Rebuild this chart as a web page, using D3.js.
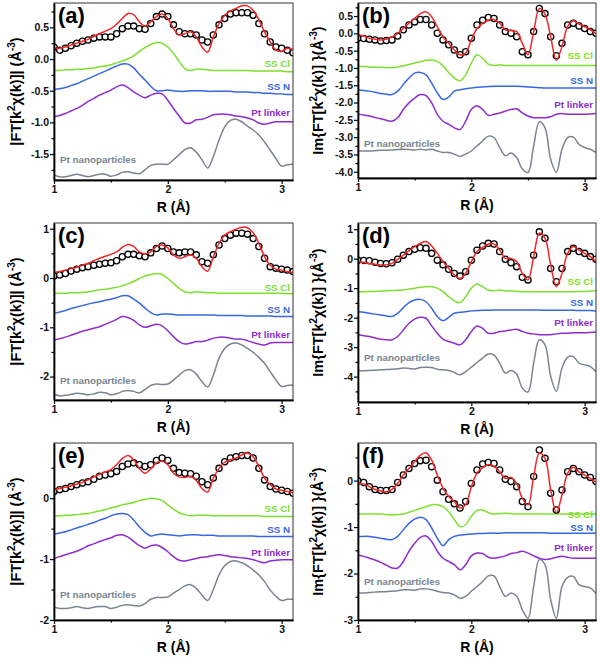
<!DOCTYPE html>
<html>
<head>
<meta charset="utf-8">
<script src="https://cdn.jsdelivr.net/npm/d3@7"></script>
<style>
body{margin:0;background:#fff;}
svg{font-family:"Liberation Sans",Arial,sans-serif;font-weight:bold;}
</style>
</head>
<body>
<svg id="chart" width="600" height="660"></svg>
<script>
// R grid (Å)
var R=[1.00,1.05,1.10,1.15,1.20,1.25,1.30,1.35,1.40,1.45,1.50,1.55,1.60,1.65,1.70,1.75,1.80,1.85,1.90,1.95,
	2.00,2.05,2.10,2.15,2.20,2.25,2.30,2.35,2.40,2.45,2.50,2.55,2.60,2.65,2.70,2.75,2.80,2.85,2.90,2.95,
	3.00,3.05,3.10];

// (a) magnitude
var dataA=[.19,.14,.17,.21,.25,.28,.30,.33,.35,.35,.35,.40,.48,.52,.52,.48,.47,.56,.67,.71,.67,.54,.43,.40,.40,.38,.30,.27,.38,.54,.64,.71,.73,.73,.73,.69,.56,.40,.27,.19,.17,.14,.10];
var fitA=[.17,.17,.19,.22,.25,.28,.31,.36,.40,.44,.48,.55,.64,.72,.70,.59,.52,.59,.67,.71,.64,.48,.38,.40,.43,.35,.19,.11,.35,.56,.69,.76,.80,.84,.84,.77,.62,.43,.27,.14,.12,.17,.15];
var ssClA=[-.18,-.18,-.17,-.17,-.16,-.16,-.15,-.14,-.12,-.11,-.09,-.06,-.03,.00,.05,.12,.18,.23,.26,.25,.19,.09,-.04,-.15,-.18,-.16,-.16,-.17,-.18,-.18,-.18,-.18,-.18,-.18,-.18,-.19,-.19,-.19,-.19,-.19,-.19,-.20,-.20];
var ssNA=[-.48,-.47,-.45,-.42,-.39,-.35,-.31,-.27,-.23,-.19,-.15,-.11,-.08,-.08,-.14,-.24,-.33,-.43,-.50,-.50,-.49,-.50,-.51,-.51,-.50,-.50,-.50,-.51,-.51,-.51,-.51,-.51,-.52,-.52,-.52,-.53,-.53,-.54,-.54,-.55,-.55,-.56,-.56];
var ptLinkerA=[-.91,-.89,-.86,-.82,-.78,-.73,-.67,-.62,-.57,-.53,-.49,-.44,-.41,-.45,-.52,-.57,-.61,-.57,-.54,-.55,-.65,-.78,-.90,-1.01,-1.01,-.96,-.95,-.92,-.88,-.87,-.87,-.88,-.90,-.91,-.93,-.96,-1.01,-1.03,-1.01,-.99,-.99,-.99,-.99];
var ptNpA=[-1.83,-1.86,-1.86,-1.84,-1.82,-1.84,-1.86,-1.84,-1.82,-1.82,-1.85,-1.83,-1.79,-1.78,-1.80,-1.81,-1.75,-1.68,-1.66,-1.66,-1.66,-1.59,-1.51,-1.43,-1.40,-1.47,-1.59,-1.72,-1.54,-1.28,-1.07,-.97,-.95,-.99,-1.06,-1.12,-1.20,-1.31,-1.44,-1.57,-1.69,-1.67,-1.66];

// (b) imaginary part
var dataB=[-.14,-.15,-.17,-.19,-.22,-.21,-.19,-.08,.10,.24,.33,.40,.40,.24,.00,-.19,-.33,-.48,-.62,-.53,-.14,.24,.38,.46,.43,.24,.05,.00,-.10,-.53,-.62,.05,.72,.57,-.10,-.65,-.29,.24,.29,.21,.14,.05,.00];
var fitB=[-.05,-.08,-.14,-.17,-.19,-.17,-.11,.00,.14,.29,.43,.57,.62,.48,.19,-.10,-.29,-.48,-.62,-.57,-.19,.14,.29,.38,.40,.29,.10,.08,.05,-.29,-.62,.05,.72,.55,-.10,-.78,-.38,.20,.36,.27,.19,.10,-.02];
var ssClB=[-.96,-.96,-.97,-.98,-.98,-.99,-.99,-.97,-.94,-.90,-.86,-.82,-.78,-.77,-.81,-.94,-1.13,-1.29,-1.37,-1.20,-.86,-.62,-.72,-.89,-.93,-.91,-.93,-.93,-.93,-.93,-.93,-.93,-.93,-.93,-.93,-.93,-.93,-.93,-.93,-.93,-.93,-.93,-.93];
var ssNB=[-1.63,-1.65,-1.67,-1.70,-1.74,-1.76,-1.77,-1.67,-1.48,-1.29,-1.15,-1.13,-1.20,-1.44,-1.72,-1.91,-1.84,-1.67,-1.63,-1.60,-1.58,-1.56,-1.55,-1.54,-1.53,-1.53,-1.53,-1.53,-1.53,-1.54,-1.55,-1.56,-1.57,-1.58,-1.58,-1.58,-1.58,-1.58,-1.58,-1.58,-1.58,-1.58,-1.58];
var ptLinkerB=[-2.34,-2.36,-2.39,-2.43,-2.47,-2.51,-2.54,-2.44,-2.20,-2.01,-1.87,-1.77,-1.80,-2.01,-2.34,-2.54,-2.63,-2.73,-2.78,-2.54,-2.20,-2.09,-2.20,-2.37,-2.34,-2.30,-2.25,-2.20,-2.18,-2.30,-2.39,-2.44,-2.44,-2.44,-2.41,-2.34,-2.32,-2.34,-2.34,-2.34,-2.34,-2.33,-2.32];
var ptNpB=[-3.40,-3.40,-3.40,-3.39,-3.38,-3.38,-3.37,-3.36,-3.35,-3.36,-3.37,-3.35,-3.37,-3.35,-3.40,-3.44,-3.44,-3.49,-3.56,-3.49,-3.40,-3.25,-3.11,-2.97,-3.01,-3.30,-3.54,-3.46,-3.59,-3.92,-4.02,-3.25,-2.56,-2.73,-3.64,-4.02,-3.35,-3.01,-3.00,-3.21,-3.30,-3.35,-3.44];

// (c) magnitude
var dataC=[.04,.06,.09,.14,.18,.21,.23,.26,.28,.30,.31,.35,.43,.48,.48,.45,.43,.51,.60,.65,.60,.53,.51,.53,.53,.47,.33,.30,.47,.67,.80,.87,.91,.91,.89,.80,.64,.40,.23,.20,.18,.16,.13];
var fitC=[.11,.13,.16,.19,.22,.26,.30,.35,.40,.44,.48,.53,.62,.68,.64,.53,.49,.53,.64,.67,.61,.47,.40,.43,.47,.40,.23,.14,.43,.70,.87,.94,.99,1.03,1.02,.92,.70,.43,.26,.18,.16,.13,.11];
var ssClC=[-.31,-.31,-.31,-.30,-.30,-.29,-.28,-.26,-.24,-.23,-.21,-.19,-.16,-.12,-.07,-.01,.04,.07,.09,.07,-.01,-.11,-.21,-.28,-.30,-.28,-.29,-.30,-.30,-.31,-.31,-.31,-.31,-.31,-.31,-.31,-.31,-.31,-.31,-.31,-.31,-.32,-.32];
var ssNC=[-.72,-.69,-.66,-.62,-.59,-.56,-.53,-.50,-.48,-.45,-.43,-.40,-.36,-.36,-.43,-.51,-.61,-.70,-.75,-.73,-.73,-.74,-.75,-.75,-.75,-.75,-.75,-.75,-.75,-.76,-.76,-.76,-.76,-.76,-.77,-.77,-.77,-.77,-.77,-.78,-.78,-.78,-.78];
var ptLinkerC=[-1.26,-1.23,-1.20,-1.16,-1.12,-1.08,-1.05,-1.02,-.99,-.94,-.89,-.84,-.78,-.80,-.86,-.95,-1.00,-.97,-.94,-.97,-1.07,-1.19,-1.29,-1.34,-1.32,-1.29,-1.29,-1.26,-1.22,-1.20,-1.20,-1.22,-1.24,-1.24,-1.27,-1.31,-1.34,-1.36,-1.32,-1.31,-1.31,-1.31,-1.31];
var ptNpC=[-2.36,-2.39,-2.38,-2.36,-2.34,-2.35,-2.37,-2.35,-2.32,-2.33,-2.37,-2.35,-2.30,-2.28,-2.30,-2.33,-2.26,-2.18,-2.15,-2.16,-2.15,-2.07,-1.97,-1.88,-1.86,-1.95,-2.10,-2.21,-1.97,-1.63,-1.43,-1.34,-1.32,-1.36,-1.43,-1.51,-1.61,-1.73,-1.90,-2.07,-2.20,-2.18,-2.17];

// (d) imaginary part
var dataD=[-.05,-.06,-.07,-.12,-.16,-.17,-.14,-.02,.12,.24,.32,.37,.35,.18,-.05,-.21,-.36,-.50,-.59,-.44,-.05,.29,.43,.52,.50,.24,-.02,-.14,-.27,-.63,-.72,.12,.91,.69,-.33,-.78,-.33,.24,.35,.24,.18,.07,-.02];
var fitD=[-.10,-.13,-.16,-.19,-.21,-.21,-.16,-.02,.12,.27,.41,.52,.58,.43,.18,-.10,-.33,-.55,-.67,-.50,-.10,.24,.38,.50,.50,.29,.01,.01,-.10,-.50,-.72,.07,.86,.69,-.21,-.95,-.50,.18,.41,.29,.18,.07,-.10];
var ssClD=[-1.12,-1.12,-1.11,-1.11,-1.10,-1.09,-1.08,-1.07,-1.06,-1.03,-1.00,-.97,-.95,-.95,-1.00,-1.12,-1.29,-1.43,-1.49,-1.29,-1.00,-.86,-.95,-1.06,-1.09,-1.06,-1.09,-1.10,-1.11,-1.12,-1.12,-1.12,-1.12,-1.12,-1.12,-1.12,-1.12,-1.12,-1.12,-1.11,-1.11,-1.10,-1.09];
var ssND=[-1.79,-1.82,-1.85,-1.88,-1.91,-1.94,-1.96,-1.85,-1.66,-1.49,-1.40,-1.38,-1.46,-1.68,-1.96,-2.10,-1.99,-1.85,-1.82,-1.80,-1.77,-1.76,-1.75,-1.75,-1.74,-1.74,-1.74,-1.74,-1.74,-1.74,-1.74,-1.74,-1.74,-1.75,-1.75,-1.75,-1.75,-1.75,-1.75,-1.76,-1.76,-1.76,-1.77];
var ptLinkerD=[-2.58,-2.61,-2.64,-2.69,-2.73,-2.75,-2.75,-2.64,-2.42,-2.19,-2.05,-1.99,-2.02,-2.28,-2.53,-2.73,-2.81,-2.87,-2.92,-2.75,-2.47,-2.28,-2.36,-2.53,-2.53,-2.47,-2.45,-2.42,-2.39,-2.47,-2.53,-2.55,-2.58,-2.58,-2.58,-2.55,-2.53,-2.53,-2.51,-2.51,-2.51,-2.50,-2.49];
var ptNpD=[-3.80,-3.80,-3.79,-3.78,-3.77,-3.76,-3.75,-3.73,-3.71,-3.72,-3.74,-3.69,-3.68,-3.69,-3.75,-3.77,-3.79,-3.86,-3.94,-3.83,-3.68,-3.52,-3.37,-3.23,-3.27,-3.54,-3.88,-3.79,-3.91,-4.39,-4.52,-3.54,-2.75,-2.92,-3.99,-4.50,-3.71,-3.34,-3.32,-3.54,-3.60,-3.66,-3.83];

// (e) magnitude
var dataE=[.11,.14,.16,.19,.22,.25,.27,.31,.36,.38,.40,.44,.52,.56,.58,.55,.52,.55,.62,.66,.62,.49,.42,.41,.40,.36,.27,.22,.33,.49,.60,.66,.68,.70,.70,.66,.49,.30,.19,.15,.13,.11,.08];
var fitE=[.14,.16,.18,.20,.23,.26,.30,.35,.39,.43,.47,.55,.65,.70,.63,.49,.41,.48,.58,.61,.55,.41,.35,.34,.36,.29,.16,.10,.33,.49,.59,.63,.66,.71,.74,.68,.52,.33,.22,.15,.13,.11,.09];
var ssClE=[-.29,-.29,-.28,-.28,-.27,-.26,-.25,-.23,-.21,-.19,-.16,-.14,-.11,-.09,-.07,-.04,-.02,.00,-.01,-.04,-.11,-.18,-.24,-.27,-.29,-.28,-.28,-.28,-.29,-.29,-.29,-.29,-.29,-.29,-.29,-.29,-.29,-.30,-.30,-.30,-.30,-.30,-.30];
var ssNE=[-.59,-.57,-.55,-.52,-.49,-.46,-.43,-.40,-.36,-.33,-.29,-.26,-.25,-.27,-.36,-.47,-.56,-.62,-.60,-.59,-.60,-.61,-.62,-.61,-.60,-.60,-.61,-.61,-.61,-.62,-.62,-.62,-.62,-.62,-.62,-.62,-.63,-.63,-.63,-.63,-.63,-.63,-.63];
var ptLinkerE=[-.99,-.96,-.93,-.90,-.87,-.83,-.78,-.75,-.71,-.68,-.65,-.61,-.60,-.64,-.71,-.78,-.82,-.78,-.77,-.81,-.88,-.96,-1.02,-1.03,-1.01,-.99,-.97,-.96,-.94,-.93,-.94,-.96,-.97,-.98,-.99,-1.01,-1.04,-1.06,-1.03,-1.02,-1.01,-1.01,-1.01];
var ptNpE=[-1.79,-1.81,-1.81,-1.80,-1.78,-1.80,-1.81,-1.79,-1.78,-1.78,-1.81,-1.79,-1.76,-1.75,-1.76,-1.77,-1.73,-1.66,-1.63,-1.63,-1.62,-1.56,-1.50,-1.44,-1.42,-1.48,-1.59,-1.68,-1.50,-1.26,-1.11,-1.04,-1.03,-1.06,-1.11,-1.18,-1.26,-1.37,-1.51,-1.61,-1.68,-1.66,-1.66];

// (f) imaginary part
var dataF=[.00,-.04,-.13,-.19,-.21,-.21,-.19,-.04,.12,.26,.37,.43,.44,.30,.01,-.24,-.40,-.50,-.59,-.45,-.06,.23,.36,.39,.37,.23,.03,-.02,-.13,-.45,-.56,.09,.66,.48,-.27,-.63,-.20,.19,.26,.19,.12,.07,-.02];
var fitF=[-.06,-.07,-.13,-.19,-.22,-.24,-.19,-.06,.12,.26,.41,.55,.60,.44,.12,-.16,-.34,-.45,-.59,-.52,-.13,.16,.28,.34,.31,.19,.05,.07,-.06,-.38,-.52,.09,.59,.48,-.20,-.69,-.31,.16,.29,.19,.12,.05,-.04];
var ssClF=[-.72,-.72,-.72,-.72,-.72,-.73,-.74,-.73,-.72,-.68,-.64,-.60,-.56,-.52,-.52,-.56,-.67,-.84,-.99,-.95,-.77,-.64,-.63,-.69,-.72,-.71,-.70,-.71,-.72,-.72,-.72,-.72,-.72,-.72,-.72,-.72,-.72,-.72,-.72,-.72,-.72,-.72,-.72];
var ssNF=[-1.20,-1.20,-1.20,-1.22,-1.24,-1.26,-1.27,-1.20,-1.06,-.92,-.83,-.79,-.84,-1.02,-1.24,-1.40,-1.27,-1.20,-1.17,-1.16,-1.15,-1.14,-1.14,-1.13,-1.13,-1.13,-1.12,-1.12,-1.12,-1.12,-1.12,-1.12,-1.12,-1.12,-1.13,-1.13,-1.13,-1.13,-1.13,-1.13,-1.13,-1.13,-1.13];
var ptLinkerF=[-1.60,-1.63,-1.67,-1.71,-1.76,-1.82,-1.88,-1.88,-1.74,-1.52,-1.35,-1.22,-1.19,-1.31,-1.52,-1.67,-1.74,-1.81,-1.92,-1.81,-1.62,-1.56,-1.57,-1.65,-1.67,-1.65,-1.62,-1.57,-1.55,-1.52,-1.56,-1.62,-1.67,-1.70,-1.68,-1.65,-1.63,-1.65,-1.67,-1.67,-1.67,-1.67,-1.67];
var ptNpF=[-2.42,-2.42,-2.41,-2.40,-2.39,-2.39,-2.38,-2.37,-2.35,-2.35,-2.36,-2.33,-2.33,-2.35,-2.38,-2.41,-2.42,-2.46,-2.53,-2.49,-2.38,-2.28,-2.17,-2.05,-2.05,-2.28,-2.49,-2.42,-2.49,-2.78,-2.96,-2.28,-1.70,-1.81,-2.56,-2.96,-2.28,-2.08,-2.06,-2.24,-2.28,-2.31,-2.43];

var compNames=['SS Cl','SS N','Pt linker','Pt nanoparticles'];
var compColors=['#7ddf2e','#3867e2','#8e2dcc','#7a8591'];
var fitColor='#f52525';

var panels=[
	{id:'(a)',kind:'mag',x:54,y:3,w:239,h:177,dom:[-1.91,0.885],step:0.5,dec:1,
		data:dataA,fit:fitA,comps:[ssClA,ssNA,ptLinkerA,ptNpA],labY:[64,87,113,160]},
	{id:'(b)',kind:'im',x:358,y:3,w:238,h:175,dom:[-4.18,0.876],step:0.5,dec:1,
		data:dataB,fit:fitB,comps:[ssClB,ssNB,ptLinkerB,ptNpB],labY:[56,81,105,144]},
	{id:'(c)',kind:'mag',x:54,y:223,w:239,h:177,dom:[-2.475,1.116],step:1,dec:0,
		data:dataC,fit:fitC,comps:[ssClC,ssNC,ptLinkerC,ptNpC],labY:[68,90,115,161]},
	{id:'(d)',kind:'im',x:358,y:223,w:238,h:179,dom:[-4.86,1.21],step:1,dec:0,
		data:dataD,fit:fitD,comps:[ssClD,ssND,ptLinkerD,ptNpD],labY:[62,83,103,138]},
	{id:'(e)',kind:'mag',x:54,y:443,w:239,h:177,dom:[-2,0.906],step:1,dec:0,
		data:dataE,fit:fitE,comps:[ssClE,ssNE,ptLinkerE,ptNpE],labY:[69,90,113,155]},
	{id:'(f)',kind:'im',x:358,y:443,w:238,h:177,dom:[-3,0.81],step:1,dec:0,
		data:dataF,fit:fitF,comps:[ssClF,ssNF,ptLinkerF,ptNpF],labY:[75,88,108,142]}
];

var svg=d3.select('#chart');

function fmt(v,dec){
	return v.toFixed(dec).replace('−','-');
}

function ticksBetween(lo,hi,step){
	var out=[];
	var s=Math.ceil(lo/step-1e-9);
	for(var k=s;k*step<=hi+1e-9;k++) out.push(+(k*step).toFixed(4));
	return out;
}

panels.forEach(function(p){
	var g=svg.append('g').attr('transform','translate('+p.x+','+p.y+')');
	var xScale=d3.scaleLinear().domain([1,3.1]).range([0,p.w]);
	var yScale=d3.scaleLinear().domain(p.dom).range([p.h,0]);

	var clipId='clip'+p.id.replace(/[()]/g,'');
	g.append('clipPath').attr('id',clipId)
		.append('rect').attr('width',p.w).attr('height',p.h);

	var line=d3.line()
		.x(function(d,i){return xScale(R[i]);})
		.y(function(d){return yScale(d);})
		.curve(d3.curveCatmullRom.alpha(0.5));

	var plot=g.append('g').attr('clip-path','url(#'+clipId+')');

	p.comps.forEach(function(c,i){
		plot.append('path').attr('d',line(c))
			.attr('fill','none').attr('stroke',compColors[i]).attr('stroke-width',1.5);
	});

	plot.selectAll('circle').data(p.data).enter().append('circle')
		.attr('cx',function(d,i){return xScale(R[i]);})
		.attr('cy',function(d){return yScale(d);})
		.attr('r',3.1)
		.attr('fill','#fff').attr('stroke','#000').attr('stroke-width',1.3);

	plot.append('path').attr('d',line(p.fit))
		.attr('fill','none').attr('stroke',fitColor).attr('stroke-width',1.5);

	// frame
	g.append('rect').attr('width',p.w).attr('height',p.h)
		.attr('fill','none').attr('stroke','#333').attr('stroke-width',1);

	// axes
	var xAxis=d3.axisBottom(xScale).tickValues([1,2,3]).tickFormat(d3.format('d'))
		.tickSize(4).tickSizeOuter(0).tickPadding(2);
	var xMinor=d3.axisBottom(xScale).tickValues([1.5,2.5]).tickFormat('')
		.tickSize(2.5).tickSizeOuter(0);
	var yTicks=ticksBetween(p.dom[0],p.dom[1],p.step);
	var yMinorTicks=ticksBetween(p.dom[0],p.dom[1],p.step/2).filter(function(v){
		return yTicks.indexOf(v)<0;
	});
	var yAxis=d3.axisLeft(yScale).tickValues(yTicks)
		.tickFormat(function(v){return fmt(v,p.dec);})
		.tickSize(4).tickSizeOuter(0).tickPadding(1);
	var yMinor=d3.axisLeft(yScale).tickValues(yMinorTicks).tickFormat('')
		.tickSize(2.5).tickSizeOuter(0);

	[g.append('g').attr('transform','translate(0,'+p.h+')').call(xAxis),
	 g.append('g').attr('transform','translate(0,'+p.h+')').call(xMinor),
	 g.append('g').call(yAxis),
	 g.append('g').call(yMinor)].forEach(function(a){
		a.selectAll('path').attr('stroke','#000').attr('stroke-width',1.4);
		a.selectAll('line').attr('stroke','#000').attr('stroke-width',1.2);
		a.selectAll('text').style('font-family','"Liberation Sans",Arial,sans-serif')
			.style('font-weight','bold').style('font-size','10.5px').attr('fill','#111');
	});

	// component labels
	compNames.forEach(function(n,i){
		var t=g.append('text').attr('y',p.labY[i]).text(n)
			.attr('fill',compColors[i]).style('font-size','9.8px');
		if(i<3) t.attr('x',p.w-3).style('text-anchor','end');
		else t.attr('x',6);
	});

	// panel letter
	g.append('text').attr('x',4).attr('y',20).text(p.id)
		.style('font-size','22px').attr('fill','#000');

	// x label
	g.append('text').attr('x',p.w/2).attr('y',p.h+32)
		.style('text-anchor','middle').style('font-size','14px').text('R (Å)');

	// y label
	var yl=g.append('text').attr('transform','rotate(-90)')
		.attr('x',-p.h/2).attr('y',p.kind==='mag'?-33:-35)
		.style('text-anchor','middle').style('font-size','14.5px');
	if(p.kind==='mag'){
		yl.append('tspan').text('|FT[k');
	}else{
		yl.append('tspan').text('Im{FT[k');
	}
	yl.append('tspan').attr('dy',-6).style('font-size','10px').text('2');
	yl.append('tspan').attr('dy',6).text('χ(k)]'+(p.kind==='mag'?'| (Å':' }(Å'));
	yl.append('tspan').attr('dy',-6).style('font-size','10px').text('-3');
	yl.append('tspan').attr('dy',6).text(')');
});
</script>
</body>
</html>
